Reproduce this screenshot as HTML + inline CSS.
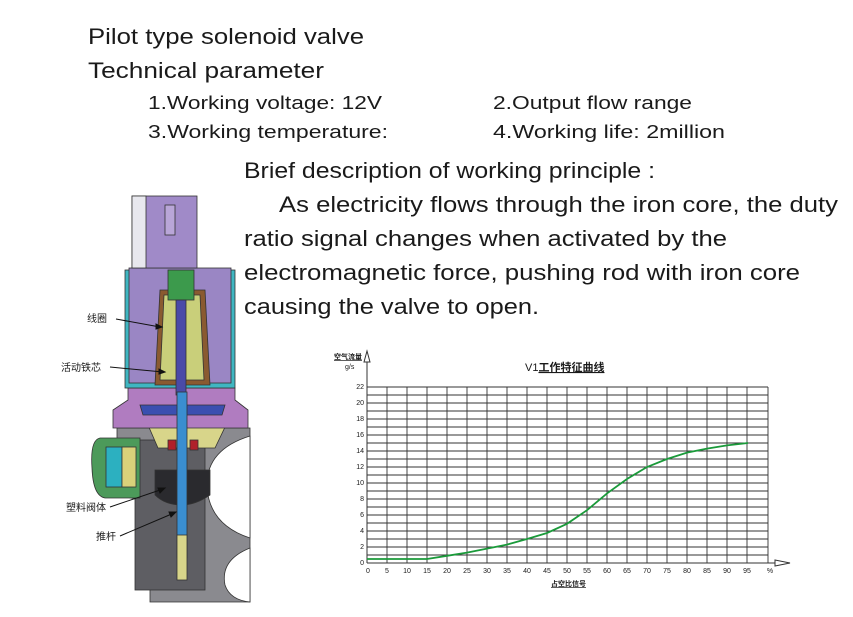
<!DOCTYPE html>
<html><head><meta charset="utf-8"><style>
html,body{margin:0;padding:0;background:#fff;width:853px;height:617px;overflow:hidden}
svg{display:block}
text{font-family:"Liberation Sans","Noto Sans CJK SC",sans-serif;fill:#1a1a1a}
</style></head><body>
<svg width="853" height="617" viewBox="0 0 853 617" xmlns="http://www.w3.org/2000/svg">
<text x="88" y="44" font-size="22" textLength="276" lengthAdjust="spacingAndGlyphs">Pilot type solenoid valve</text>
<text x="88" y="78" font-size="22" textLength="236" lengthAdjust="spacingAndGlyphs">Technical parameter</text>
<text x="148" y="109" font-size="18" textLength="234" lengthAdjust="spacingAndGlyphs">1.Working voltage: 12V</text>
<text x="148" y="138" font-size="18" textLength="240" lengthAdjust="spacingAndGlyphs">3.Working temperature:</text>
<text x="493" y="109" font-size="18" textLength="199" lengthAdjust="spacingAndGlyphs">2.Output flow range</text>
<text x="493" y="138" font-size="18" textLength="232" lengthAdjust="spacingAndGlyphs">4.Working life: 2million</text>
<text x="244" y="178" font-size="22" textLength="411" lengthAdjust="spacingAndGlyphs">Brief description of working principle :</text>
<text x="279" y="212" font-size="22" textLength="559" lengthAdjust="spacingAndGlyphs">As electricity flows through the iron core, the duty</text>
<text x="244" y="246" font-size="22" textLength="483" lengthAdjust="spacingAndGlyphs">ratio signal changes when activated by the</text>
<text x="244" y="280" font-size="22" textLength="556" lengthAdjust="spacingAndGlyphs">electromagnetic force, pushing rod with iron core</text>
<text x="244" y="314" font-size="22" textLength="295" lengthAdjust="spacingAndGlyphs">causing the valve to open.</text>

<g stroke="#333" stroke-width="0.8">
  <path d="M117 428 L250 428 L250 602 L150 602 L150 560 L140 545 L140 500 L117 495 Z" fill="#8a8a8f"/>
  <rect x="135" y="440" width="70" height="150" fill="#5e5e63"/>
  <path d="M250 436 Q205 450 207 488 Q210 525 250 538 Z" fill="#fff"/>
  <path d="M250 548 Q220 560 225 585 Q230 600 250 602 Z" fill="#fff"/>
  <path d="M100 438 Q90 440 92 468 Q93 496 105 498 L140 498 L140 438 Z" fill="#4c9a5a"/>
  <rect x="106" y="447" width="16" height="40" fill="#2cb0c0"/>
  <rect x="122" y="447" width="14" height="40" fill="#d9d17a"/>
  <path d="M148 425 L226 425 L215 448 L158 448 Z" fill="#d8d58a"/>
  <rect x="168" y="440" width="8" height="10" fill="#b0202a"/>
  <rect x="190" y="440" width="8" height="10" fill="#b0202a"/>
  <path d="M155 470 L210 470 L210 495 Q195 505 182 505 Q165 505 155 495 Z" fill="#2a2a2e"/>
  <path d="M128 388 L235 388 L235 400 L248 410 L248 428 L113 428 L113 410 L128 400 Z" fill="#b07cc0"/>
  <path d="M140 405 L225 405 L222 415 L143 415 Z" fill="#3a4fb0"/>
  <rect x="125" y="270" width="110" height="118" fill="#3fb6c2"/>
  <rect x="129" y="268" width="102" height="115" fill="#9a86c4"/>
  <path d="M160 290 L205 290 L210 385 L155 385 Z" fill="#8a5a30"/>
  <path d="M164 295 L200 295 L204 380 L160 380 Z" fill="#c9cf7a"/>
  <rect x="168" y="270" width="26" height="30" fill="#3c9a4c"/>
  <rect x="132" y="196" width="65" height="72" fill="#a08ac8"/>
  <rect x="132" y="196" width="14" height="72" fill="#e8e8ee"/>
  <rect x="165" y="205" width="10" height="30" fill="#b9a6d8"/>
  <rect x="176" y="300" width="10" height="95" fill="#4a4aa8"/>
  <rect x="177" y="392" width="10" height="166" fill="#3a8ed0"/>
  <rect x="177" y="535" width="10" height="45" fill="#d8d58a"/>
</g>
<g font-size="10">
  <text x="87" y="322">线圈</text>
  <text x="61" y="371">活动铁芯</text>
  <text x="66" y="511">塑料阀体</text>
  <text x="96" y="540">推杆</text>
</g>
<g stroke="#111" stroke-width="1" fill="#111">
  <line x1="116" y1="319" x2="160" y2="327"/><path d="M162 327 l-6 -3 l0 5 z"/>
  <line x1="110" y1="367" x2="163" y2="372"/><path d="M165 372 l-6 -3 l0 5 z"/>
  <line x1="110" y1="507" x2="163" y2="489"/><path d="M165 488 l-7 0 l2 5 z"/>
  <line x1="120" y1="536" x2="174" y2="513"/><path d="M176 512 l-7 0 l2 5 z"/>
</g>

<g stroke="#333" stroke-width="0.9">
  <path d="M367 387H768M367 395H768M367 403H768M367 411H768M367 419H768M367 427H768M367 435H768M367 443H768M367 451H768M367 459H768M367 467H768M367 475H768M367 483H768M367 491H768M367 499H768M367 507H768M367 515H768M367 523H768M367 531H768M367 539H768M367 547H768M367 555H768"/>
  <path d="M387 387V563M407 387V563M427 387V563M447 387V563M467 387V563M487 387V563M507 387V563M527 387V563M547 387V563M567 387V563M587 387V563M607 387V563M627 387V563M647 387V563M667 387V563M687 387V563M707 387V563M727 387V563M747 387V563M768 387V563"/>
</g>
<g stroke="#333" stroke-width="1" fill="none">
  <line x1="367" y1="356" x2="367" y2="563"/>
  <line x1="367" y1="563" x2="780" y2="563"/>
  <path d="M364 362 L367 351 L370 362 Z" fill="#fff"/>
  <path d="M775 560 L790 563 L775 566 Z" fill="#fff"/>
</g>
<polyline fill="none" stroke="#1a9a3a" stroke-width="1.8" points="367,559 427,559 447,555.8 467,552.6 487,548.6 507,544.6 527,539 547,533 567,523.8 587,510.2 607,493.4 627,479 647,467 667,459 687,452.6 707,448.6 727,445.4 748,443"/>
<g font-size="7" text-anchor="end">
  <text x="364" y="389">22</text><text x="364" y="405">20</text><text x="364" y="421">18</text><text x="364" y="437">16</text><text x="364" y="453">14</text><text x="364" y="469">12</text><text x="364" y="485">10</text><text x="364" y="501">8</text><text x="364" y="517">6</text><text x="364" y="533">4</text><text x="364" y="549">2</text><text x="364" y="565">0</text>
</g>
<g font-size="7" text-anchor="middle">
  <text x="368" y="573">0</text><text x="387" y="573">5</text><text x="407" y="573">10</text><text x="427" y="573">15</text><text x="447" y="573">20</text><text x="467" y="573">25</text><text x="487" y="573">30</text><text x="507" y="573">35</text><text x="527" y="573">40</text><text x="547" y="573">45</text><text x="567" y="573">50</text><text x="587" y="573">55</text><text x="607" y="573">60</text><text x="627" y="573">65</text><text x="647" y="573">70</text><text x="667" y="573">75</text><text x="687" y="573">80</text><text x="707" y="573">85</text><text x="727" y="573">90</text><text x="747" y="573">95</text><text x="770" y="573">%</text>
</g>
<text x="334" y="359" font-size="7" font-weight="bold" text-decoration="underline">空气流量</text>
<text x="345" y="369" font-size="7">g/s</text>
<text x="525" y="371" font-size="11">V1<tspan font-weight="bold" text-decoration="underline">工作特征曲线</tspan></text>
<text x="551" y="586" font-size="7" font-weight="bold" text-decoration="underline">占空比信号</text>
</svg>
</body></html>
